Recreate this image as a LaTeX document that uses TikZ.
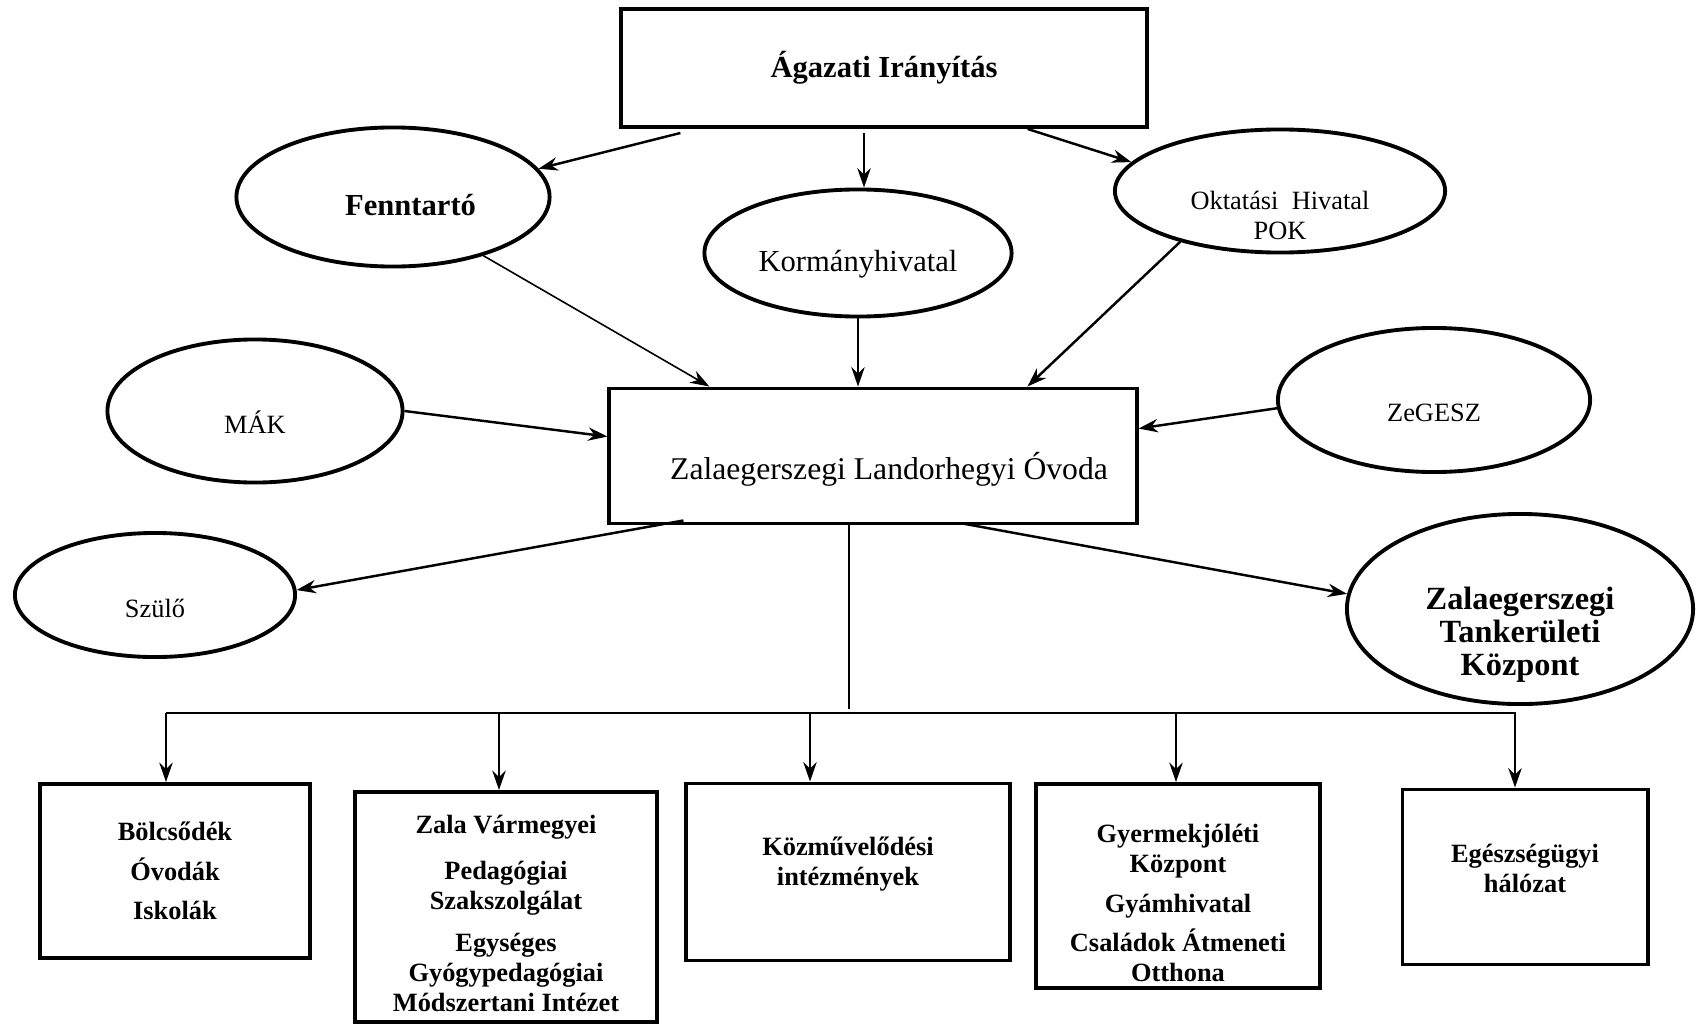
\documentclass[tikz,border=0pt]{standalone}
\usepackage{fontspec}
\setmainfont{Liberation Serif}
\usetikzlibrary{calc,shapes.geometric,arrows.meta}

\begin{document}
\begin{tikzpicture}[x=0.01cm,y=-0.01cm,
  unitbox/.style={draw, line width=1.1pt, inner sep=0pt},
  orgell/.style={draw, ellipse, line width=1.1pt, inner sep=0pt, align=center},
  textlift/.style={text height=#1, text depth=0pt},
  arr/.style={-{Stealth[length=5.5pt,width=3.8pt]}, line width=0.7pt}]

\useasboundingbox (0,0) rectangle (1697,1024);

% Top and main boxes
\node[unitbox, minimum width=5.25cm, minimum height=1.18cm, font=\fontsize{8.7}{10}\selectfont\bfseries] (ag) at (884,68) {Ágazati Irányítás};
\node[unitbox, minimum width=5.27cm, minimum height=1.35cm, font=\fontsize{9}{11}\selectfont, text height=16pt, text depth=2.6pt] (ovoda) at (873,456) {\hspace*{0.32cm}Zalaegerszegi Landorhegyi Óvoda};

% Ellipses round the kindergarten
\node[orgell, minimum width=3.13cm, minimum height=1.39cm, font=\fontsize{8.7}{10}\selectfont\bfseries, textlift=10.5pt] (fen) at (393,197) {\hspace*{10pt}Fenntartó};
\node[orgell, minimum width=3.07cm, minimum height=1.27cm, font=\fontsize{8.7}{10}\selectfont, textlift=10.4pt] (kor) at (858,253) {Kormányhivatal};
\node[orgell, minimum width=3.30cm, minimum height=1.23cm, font=\fontsize{7.5}{8.5}\selectfont, textlift=27.4pt, inner ysep=-6pt] (okt) at (1280,191) {Oktatási\ \ Hivatal\\POK};
\node[orgell, minimum width=2.95cm, minimum height=1.43cm, font=\fontsize{7.5}{8.5}\selectfont, textlift=12.8pt] (mak) at (255,411) {MÁK};
\node[orgell, minimum width=3.12cm, minimum height=1.44cm, font=\fontsize{7.5}{8.5}\selectfont, textlift=12.4pt] (zeg) at (1434,400) {ZeGESZ};
\node[orgell, minimum width=2.80cm, minimum height=1.24cm, font=\fontsize{7.5}{8.5}\selectfont, textlift=12.6pt] (szu) at (155,595) {Szülő};
\node[orgell, minimum width=3.46cm, minimum height=1.90cm, font=\fontsize{9.2}{9.4}\selectfont\bfseries, textlift=38pt, inner ysep=-3pt] (tank) at (1520,609) {Zalaegerszegi\\Tankerületi\\Központ};

% Bottom boxes
\tikzset{every node/.append style={font=\fontsize{7.5}{8.5}\selectfont\bfseries}}
\node[unitbox, align=center, minimum width=2.69cm, minimum height=1.74cm] (bol) at (175,871) {Bölcsődék\\[2.8pt]Óvodák\\[2.8pt]Iskolák};
\node[unitbox, align=center, minimum width=3.02cm, minimum height=2.30cm, textlift=59.2pt] (zala) at (506,907) {Zala Vármegyei\\[4.5pt]Pedagógiai\\Szakszolgálat\\[3.4pt]Egységes\\Gyógypedagógiai\\Módszertani Intézet};
\node[unitbox, align=center, minimum width=3.24cm, minimum height=1.77cm, textlift=7.6pt] (koz) at (848,872) {Közművelődési\\intézmények};
\node[unitbox, align=center, minimum width=2.83cm, minimum height=2.04cm, textlift=54.4pt] (gyer) at (1178,886) {Gyermekjóléti\\Központ\\[2.8pt]Gyámhivatal\\[2.8pt]Családok Átmeneti\\Otthona};
\node[unitbox, align=center, minimum width=2.45cm, minimum height=1.75cm, textlift=9pt] (egs) at (1525,877) {Egészségügyi\\hálózat};

% Arrows from the top box
\coordinate (k0) at ($(ag.south)+(-20,4)$);
\draw[arr] ($(ag.south west)+(61,4)$) -- (fen.11);
\draw[arr] (k0) -- (k0 |- kor.north);
\draw[arr] ($(ag.south east)+(-121,0)$) -- (okt.169);

% Arrows into the kindergarten
\draw[arr, line width=0.45pt] (fen.-33) -- ($(ovoda.north west)+(102,0)$);
\draw[arr] (kor.south) -- ($(ovoda.north)+(-15,0)$);
\draw[arr] (okt.207) -- ($(ovoda.north west)+(420,0)$);
\draw[arr] (mak.east) -- ($(ovoda.north west)+(0,50)$);
\draw[arr] (zeg.183) -- ($(ovoda.north east)+(0,42)$);

% Arrows out of the kindergarten
\draw[arr] ($(ovoda.south west)+(76,-5)$) -- (szu.2);
\draw[arr] ($(ovoda.south west)+(355,-2)$) -- (tank.175);

% Trunk and bus to the bottom boxes
\coordinate (trunk) at (849,709);
\coordinate (busL) at (166,713);
\coordinate (busR) at (1516,713);
\draw[line width=0.3pt] ($(ovoda.south)+(-24,0)$) -- (trunk);
\draw[line width=0.6pt] (busL) -- (busR);
\foreach \x/\n in {166/bol, 499/zala, 810/koz, 1176/gyer, 1515/egs} {
  \coordinate (d\n) at (\x,713);
  \draw[arr] (d\n) -- (d\n |- \n.north);
}

\end{tikzpicture}
\end{document}
